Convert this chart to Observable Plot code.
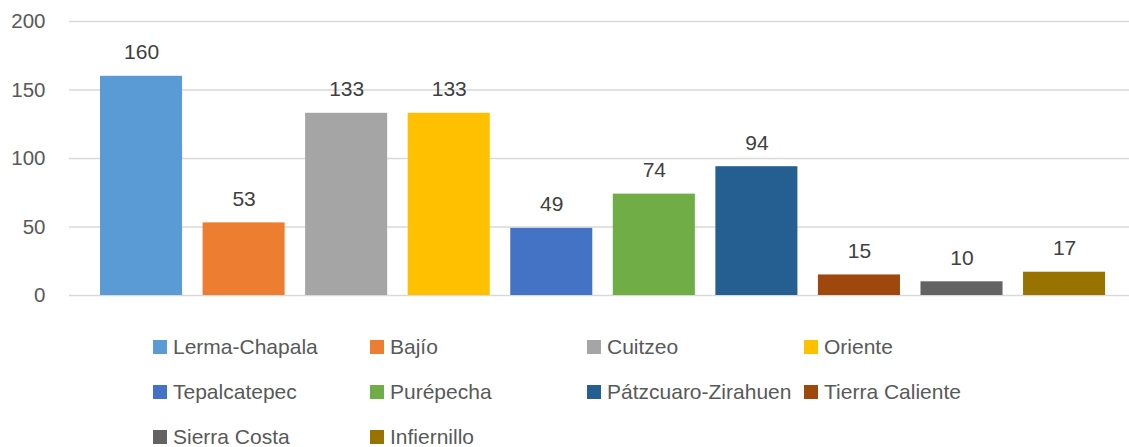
<!DOCTYPE html>
<html>
<head>
<meta charset="utf-8">
<script src="https://cdn.jsdelivr.net/npm/d3@7"></script>
<script src="https://cdn.jsdelivr.net/npm/@observablehq/plot@0.6"></script>
<style>
  body { margin: 0; background: #fff; font-family: "Liberation Sans", Arial, sans-serif; }
  #wrap { width: 1129px; height: 447px; overflow: hidden; }
  #legend { display: grid; grid-template-columns: repeat(4, 217px); grid-auto-rows: 45px;
            padding-left: 153px; margin-top: 4px; color: #595959; font-size: 21px; }
  .item { display: flex; align-items: center; white-space: nowrap; }
  .sw { width: 14px; height: 14px; margin-right: 6px; flex: none; }
</style>
</head>
<body>
<div id="wrap"><div id="chart"></div><div id="legend"></div></div>
<script>
const categories = ["Lerma-Chapala", "Bajío", "Cuitzeo", "Oriente", "Tepalcatepec", "Purépecha", "Pátzcuaro-Zirahuen", "Tierra Caliente", "Sierra Costa", "Infiernillo"];
const values = [160, 53, 133, 133, 49, 74, 94, 15, 10, 17];
const colors = ["#5B9BD5", "#ED7D31", "#A5A5A5", "#FFC000", "#4472C4", "#70AD47", "#255E91", "#9E480E", "#636363", "#997300"];
const yTicks = [0, 50, 100, 150, 200];

const data = categories.map((c, i) => ({cat: c, value: values[i]}));

const chart = Plot.plot({
  width: 1129,
  height: 320,
  marginLeft: 69,
  marginRight: 0,
  marginTop: 21,
  marginBottom: 25,
  style: {fontFamily: '"Liberation Sans", Arial, sans-serif', fontSize: "20.5px", color: "#595959", background: "#fff"},
  x: {domain: categories, padding: 0.2, round: false, insetLeft: 10.5, insetRight: 3.4, axis: null},
  y: {domain: [0, 200], ticks: yTicks, tickSize: 0, tickPadding: 24, label: null},
  color: {domain: categories, range: colors},
  marks: [
    Plot.ruleY(yTicks, {stroke: "#d9d9d9", strokeWidth: 1.3}),
    Plot.barY(data, {x: "cat", y: "value", fill: "cat"}),
    Plot.text(data, {x: "cat", y: "value", text: d => String(d.value), dy: -17, lineAnchor: "bottom", fill: "#404040", fontSize: 21})
  ]
});
document.getElementById("chart").appendChild(chart);

const legend = document.getElementById("legend");
categories.forEach((c, i) => {
  const it = document.createElement("div");
  it.className = "item";
  const sw = document.createElement("span");
  sw.className = "sw";
  sw.style.background = colors[i];
  const t = document.createElement("span");
  t.textContent = c;
  it.appendChild(sw); it.appendChild(t);
  legend.appendChild(it);
});
</script>
</body>
</html>
